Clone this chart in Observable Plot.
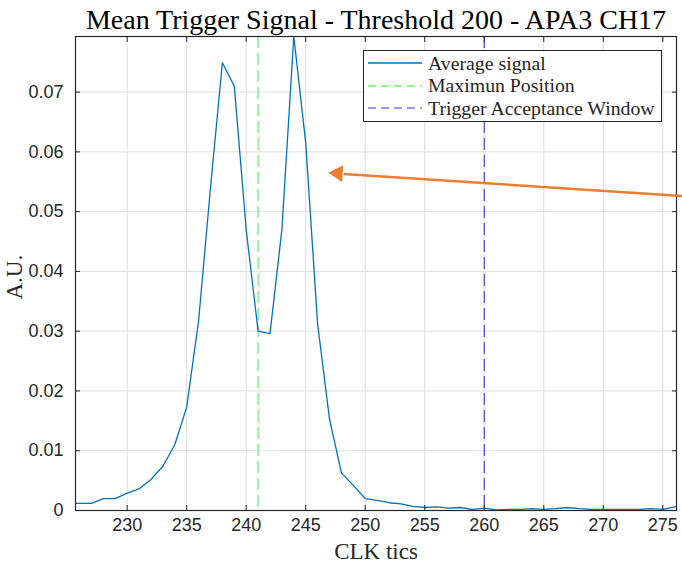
<!DOCTYPE html>
<html>
<head>
<meta charset="utf-8">
<script src="https://cdn.jsdelivr.net/npm/d3@7"></script>
<script src="https://cdn.jsdelivr.net/npm/@observablehq/plot@0.6"></script>
<style>
  html, body { margin: 0; padding: 0; background: white; }
  #wrap { position: relative; width: 682px; height: 564px; overflow: hidden; }
  #legend {
    position: absolute; left: 363px; top: 50px; width: 297px; height: 70px;
    background: white; border: 1px solid #262626;
    font-family: "Liberation Serif", serif; font-size: 19.8px; color: #262626;
  }
  .row { position: absolute; left: 0; height: 22px; display: flex; align-items: center; white-space: nowrap; }
  .row svg { margin-left: 4px; margin-right: 6px; }
</style>
</head>
<body>
<div id="wrap">
  <div id="chart"></div>
  <div id="legend"></div>
</div>
<script>
// ---- data ----
const clk = [225,226,227,228,229,230,231,232,233,234,235,236,237,238,239,240,241,242,243,244,245,246,247,248,249,250,
             251,252,253,254,255,256,257,258,259,260,261,262,263,264,265,266,267,268,269,270,271,272,273,274,275,276,277];
const avgSignal = [0.0012,0.0012,0.0012,0.0020,0.0020,0.0029,0.0036,0.0052,0.0074,0.0110,0.0173,0.0317,0.0540,0.0749,0.0710,0.0470,0.0300,0.0296,0.0470,0.0793,0.0615,0.0312,0.0153,0.0063,0.0042,0.0020,
                   0.0017,0.0013,0.0011,0.0007,0.0005,0.0006,0.0004,0.0005,0.0002,0.0004,0.0001,0.0002,0.0002,0.0003,0.0002,0.0003,0.0005,0.0003,0.0002,0.0002,0.0002,0.0002,0.0002,0.0003,0.0002,0.0006,0.0012];
const maxPosition = [241];
const triggerWindow = [260];
const xTicks = [230,235,240,245,250,255,260,265,270,275];
const yTicks = [0,0.01,0.02,0.03,0.04,0.05,0.06,0.07];
const xDomain = [225.66, 276.15];
const yDomain = [0, 0.0793];
const titleText = ["Mean Trigger Signal - Threshold 200 - APA3 CH17"];
const xLabel = ["CLK tics"];
const yLabel = ["A.U."];
const legendLabels = ["Average signal", "Maximun Position", "Trigger Acceptance Window"];
// annotation arrow (data coordinates)
const arrowFrom = {x: 276.7, y: 0.0526};
const arrowBase = {x: 248.2, y: 0.0563};
const arrowHead = {x: 247.7, y: 0.0564};

const data = clk.map((c, i) => ({clk: c, v: avgSignal[i]}));
const serif = "Liberation Serif";
const ink = "#262626";
const blue = "#0072BD";
const orange = "#ED7D31";

const chart = Plot.plot({
  width: 682,
  height: 564,
  marginLeft: 75,
  marginRight: 6,
  marginTop: 36,
  marginBottom: 54,
  style: {fontFamily: "Liberation Sans", fontSize: "18px", color: ink, background: "white", overflow: "visible"},
  x: {domain: xDomain},
  y: {domain: yDomain},
  marks: [
    Plot.gridX(xTicks, {stroke: "#dedede", strokeOpacity: 1}),
    Plot.gridY(yTicks, {stroke: "#dedede", strokeOpacity: 1}),
    Plot.ruleX(maxPosition, {stroke: "#66ee66", strokeWidth: 1.2, strokeDasharray: "12,5"}),
    Plot.ruleX(triggerWindow, {stroke: "#4040e0", strokeWidth: 1.2, strokeDasharray: "12,5"}),
    Plot.line(data, {x: "clk", y: "v", stroke: blue, strokeWidth: 1.3, clip: true}),
    // tick labels
    Plot.axisX({ticks: xTicks, tickSize: 0, tickPadding: 8, tickFormat: d => d, label: null}),
    Plot.axisY({ticks: yTicks, tickSize: 0, tickPadding: 12, tickFormat: d => d === 0 ? "0" : d3.format(".2f")(d), label: null}),
    // inward ticks (MATLAB style)
    Plot.axisX({ticks: xTicks, anchor: "bottom", tickSize: 5, dy: -5, fill: "none", stroke: ink, label: null}),
    Plot.axisX({ticks: xTicks, anchor: "top", tickSize: 5, dy: 5, fill: "none", stroke: ink, label: null}),
    Plot.axisY({ticks: yTicks, anchor: "left", tickSize: 5, dx: 5, fill: "none", stroke: ink, label: null}),
    Plot.axisY({ticks: yTicks, anchor: "right", tickSize: 5, dx: -5, fill: "none", stroke: ink, label: null}),
    Plot.frame({stroke: ink, strokeWidth: 1.2}),
    // texts
    Plot.text(titleText, {text: d => d, frameAnchor: "top", lineAnchor: "bottom", dy: -8, fontFamily: serif, fontSize: 28, fill: "black"}),
    Plot.text(xLabel, {text: d => d, frameAnchor: "bottom", lineAnchor: "bottom", dy: 48, fontFamily: serif, fontSize: 23, fill: ink}),
    Plot.text(yLabel, {text: d => d, frameAnchor: "left", rotate: -90, lineAnchor: "middle", dx: -61, dy: 26, fontFamily: serif, fontSize: 23, fill: ink}),
    // arrow annotation
    Plot.link([0], {x1: () => arrowFrom.x, y1: () => arrowFrom.y, x2: () => arrowBase.x, y2: () => arrowBase.y, stroke: orange, strokeWidth: 2.5}),
    Plot.dot([0], {x: () => arrowHead.x, y: () => arrowHead.y, symbol: "triangle", r: 6.2, rotate: -86.4, fill: orange, stroke: "none"})
  ]
});
document.getElementById("chart").append(chart);

// legend
const legendStyles = [
  {stroke: blue, dash: null},
  {stroke: "#66ff66", dash: "8,5"},
  {stroke: "#7777ff", dash: "8,5"}
];
const lg = document.getElementById("legend");
legendLabels.forEach((lab, i) => {
  const row = document.createElement("div");
  row.className = "row";
  row.style.top = (1 + i * 22.5) + "px";
  const s = legendStyles[i];
  row.innerHTML = `<svg width="54" height="10"><line x1="0" x2="54" y1="5" y2="5" stroke="${s.stroke}" stroke-width="1.3" ${s.dash ? `stroke-dasharray="${s.dash}"` : ""}/></svg><span>${lab}</span>`;
  lg.append(row);
});
</script>
</body>
</html>
